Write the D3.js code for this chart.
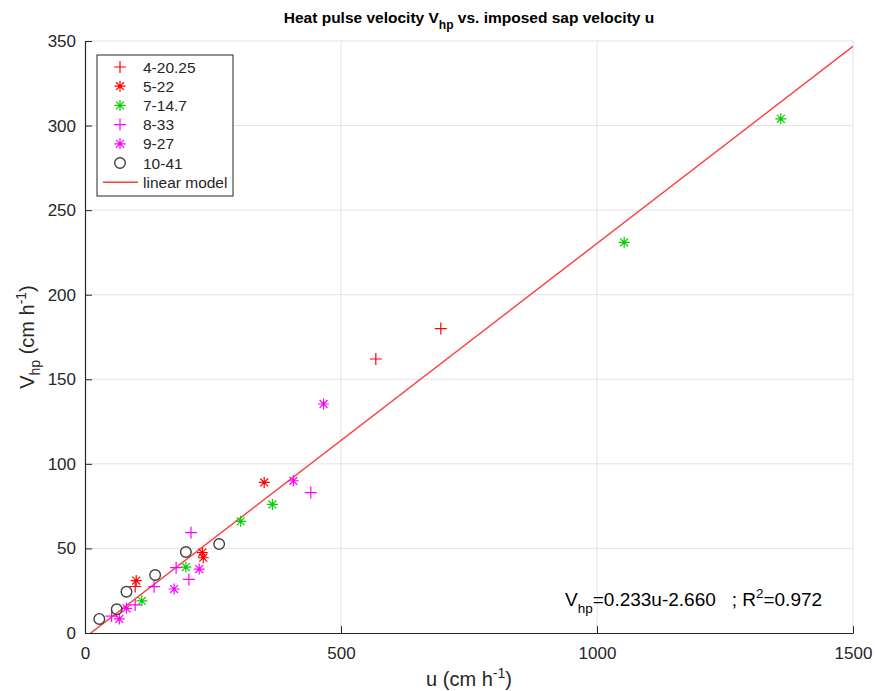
<!DOCTYPE html>
<html>
<head>
<meta charset="utf-8">
<script src="https://cdn.jsdelivr.net/npm/d3@7"></script>
<style>
  body { margin: 0; background: #fff; }
  text { font-family: "Liberation Sans", Arial, sans-serif; }
</style>
</head>
<body>
<div id="chart"></div>
<script>
// ---- data ----
const seriesNames = ['4-20.25', '5-22', '7-14.7', '8-33', '9-27', '10-41'];
const s4_20 = [[98, 27.5], [568, 162], [695, 180]];
const s5_22 = [[100, 31], [229, 47.5], [231, 44.5], [350, 89]];
const s7_14 = [[111, 19], [197, 39], [304, 66], [366, 76], [1053, 231], [1359, 304]];
const s8_33 = [[52, 10], [98, 16.6], [135, 27.4], [178, 38.6], [203, 31.7], [207, 59.3], [441, 83]];
const s9_27 = [[67, 8.3], [81, 14.6], [174, 26], [223, 37.8], [407, 90], [466, 135.4]];
const s10_41 = [[28, 8.3], [62, 14], [81, 24.4], [137, 34.3], [197, 47.9], [262, 52.6]];
const fitSlope = 0.233, fitIntercept = -2.660, fitR2 = 0.972;
const xTicks = [0, 500, 1000, 1500];
const yTicks = [0, 50, 100, 150, 200, 250, 300, 350];

const series = [
  { name: seriesNames[0], pts: s4_20, marker: 'plus', color: '#ff0000' },
  { name: seriesNames[1], pts: s5_22, marker: 'star', color: '#ff0000' },
  { name: seriesNames[2], pts: s7_14, marker: 'star', color: '#00d000' },
  { name: seriesNames[3], pts: s8_33, marker: 'plus', color: '#ff00ff' },
  { name: seriesNames[4], pts: s9_27, marker: 'star', color: '#ff00ff' },
  { name: seriesNames[5], pts: s10_41, marker: 'circle', color: '#404040' }
];

const W = 875, H = 691;
const m = { left: 85, right: 22, top: 41, bottom: 58 };
const axisColor = '#262626';

const svg = d3.select('#chart').append('svg')
  .attr('width', W).attr('height', H);

const x = d3.scaleLinear().domain([0, 1500]).range([m.left, W - m.right]);
const y = d3.scaleLinear().domain([0, 350]).range([H - m.bottom, m.top]);

// grid
svg.append('g').selectAll('line').data(xTicks.slice(1)).enter().append('line')
  .attr('x1', d => x(d)).attr('x2', d => x(d))
  .attr('y1', y(0)).attr('y2', y(350))
  .attr('stroke', '#e3e3e3').attr('stroke-width', 1);
svg.append('g').selectAll('line').data(yTicks.slice(1)).enter().append('line')
  .attr('x1', x(0)).attr('x2', x(1500))
  .attr('y1', d => y(d)).attr('y2', d => y(d))
  .attr('stroke', '#e3e3e3').attr('stroke-width', 1);

// axes
const xAxis = svg.append('g')
  .attr('transform', 'translate(0,' + y(0) + ')')
  .call(d3.axisBottom(x).tickValues(xTicks).tickFormat(d3.format('d'))
    .tickSizeInner(-7).tickSizeOuter(0).tickPadding(14));
const yAxis = svg.append('g')
  .attr('transform', 'translate(' + x(0) + ',0)')
  .call(d3.axisLeft(y).tickValues(yTicks).tickFormat(d3.format('d'))
    .tickSizeInner(-7).tickSizeOuter(0).tickPadding(9));
[xAxis, yAxis].forEach(a => {
  a.selectAll('path').attr('stroke', axisColor).attr('stroke-width', 1.2);
  a.selectAll('line').attr('stroke', axisColor);
  a.selectAll('text').attr('fill', axisColor).style('font-size', '17px')
    .style('font-family', '"Liberation Sans", Arial, sans-serif');
});

// fit line
svg.append('defs').append('clipPath').attr('id', 'plotclip')
  .append('rect').attr('x', x(0)).attr('y', y(350))
  .attr('width', x(1500) - x(0)).attr('height', y(0) - y(350));
svg.append('line')
  .attr('clip-path', 'url(#plotclip)')
  .attr('x1', x(0)).attr('y1', y(fitIntercept))
  .attr('x2', x(1500)).attr('y2', y(fitSlope * 1500 + fitIntercept))
  .attr('stroke', '#ff3c3c').attr('stroke-width', 1.4);

// markers
function drawMarker(g, type, color, cx, cy) {
  if (type === 'plus') {
    const r = 6;
    g.append('path').attr('d', `M${cx - r},${cy}H${cx + r}M${cx},${cy - r}V${cy + r}`)
      .attr('stroke', color).attr('stroke-width', 1.2).attr('fill', 'none');
  } else if (type === 'star') {
    const r = 5.5, d = r * 0.72;
    g.append('path').attr('d',
      `M${cx - r},${cy}H${cx + r}M${cx},${cy - r}V${cy + r}` +
      `M${cx - d},${cy - d}L${cx + d},${cy + d}M${cx - d},${cy + d}L${cx + d},${cy - d}`)
      .attr('stroke', color).attr('stroke-width', 1.2).attr('fill', 'none');
  } else {
    g.append('circle').attr('cx', cx).attr('cy', cy).attr('r', 5.3)
      .attr('stroke', color).attr('stroke-width', 1.4).attr('fill', 'none');
  }
}
const markG = svg.append('g');
series.forEach(s => {
  s.pts.forEach(p => drawMarker(markG, s.marker, s.color, x(p[0]), y(p[1])));
});

// legend
const lg = svg.append('g').attr('transform', 'translate(97,55)');
lg.append('rect').attr('width', 136).attr('height', 141)
  .attr('fill', '#fff').attr('stroke', axisColor).attr('stroke-width', 1);
series.forEach((s, i) => {
  const yy = 12 + i * 19.2;
  drawMarker(lg, s.marker, s.color, 23, yy);
  lg.append('text').attr('x', 46).attr('y', yy + 5.5).text(s.name)
    .style('font-size', '15.5px').attr('fill', axisColor);
});
const lyy = 12 + 6 * 19.2;
lg.append('line').attr('x1', 6).attr('x2', 41).attr('y1', lyy).attr('y2', lyy)
  .attr('stroke', '#ff3c3c').attr('stroke-width', 1.4);
lg.append('text').attr('x', 46).attr('y', lyy + 5.5).text('linear model')
  .style('font-size', '15.5px').attr('fill', axisColor);

// title
const title = svg.append('text').attr('x', (x(0) + x(1500)) / 2).attr('y', 23)
  .attr('text-anchor', 'middle').style('font-size', '15.5px').style('font-weight', 'bold')
  .attr('fill', '#000');
title.append('tspan').text('Heat pulse velocity V');
title.append('tspan').attr('dy', 6).style('font-size', '12px').text('hp');
title.append('tspan').attr('dy', -6).text(' vs. imposed sap velocity u');

// x label
const xl = svg.append('text').attr('x', (x(0) + x(1500)) / 2).attr('y', 686)
  .attr('text-anchor', 'middle').style('font-size', '20px').attr('fill', axisColor);
xl.append('tspan').text('u (cm h');
xl.append('tspan').attr('dy', -8).style('font-size', '14px').text('-1');
xl.append('tspan').attr('dy', 8).text(')');

// y label
const yl = svg.append('text')
  .attr('transform', 'translate(34,' + ((y(0) + y(350)) / 2) + ') rotate(-90)')
  .attr('text-anchor', 'middle').style('font-size', '20px').attr('fill', axisColor);
yl.append('tspan').text('V');
yl.append('tspan').attr('dy', 6).style('font-size', '14px').text('hp');
yl.append('tspan').attr('dy', -6).text(' (cm h');
yl.append('tspan').attr('dy', -8).style('font-size', '14px').text('-1');
yl.append('tspan').attr('dy', 8).text(')');

// annotation
const an = svg.append('text').attr('x', 565).attr('y', 606)
  .style('font-size', '19px').attr('fill', '#000');
an.append('tspan').text('V');
an.append('tspan').attr('dy', 7).style('font-size', '13.5px').text('hp');
an.append('tspan').attr('dy', -7).text('=' + fitSlope.toFixed(3) + 'u' + fitIntercept.toFixed(3) + '\u00a0\u00a0\u00a0; R');
an.append('tspan').attr('dy', -8).style('font-size', '13.5px').text('2');
an.append('tspan').attr('dy', 8).text('=' + fitR2.toFixed(3));
</script>
</body>
</html>
